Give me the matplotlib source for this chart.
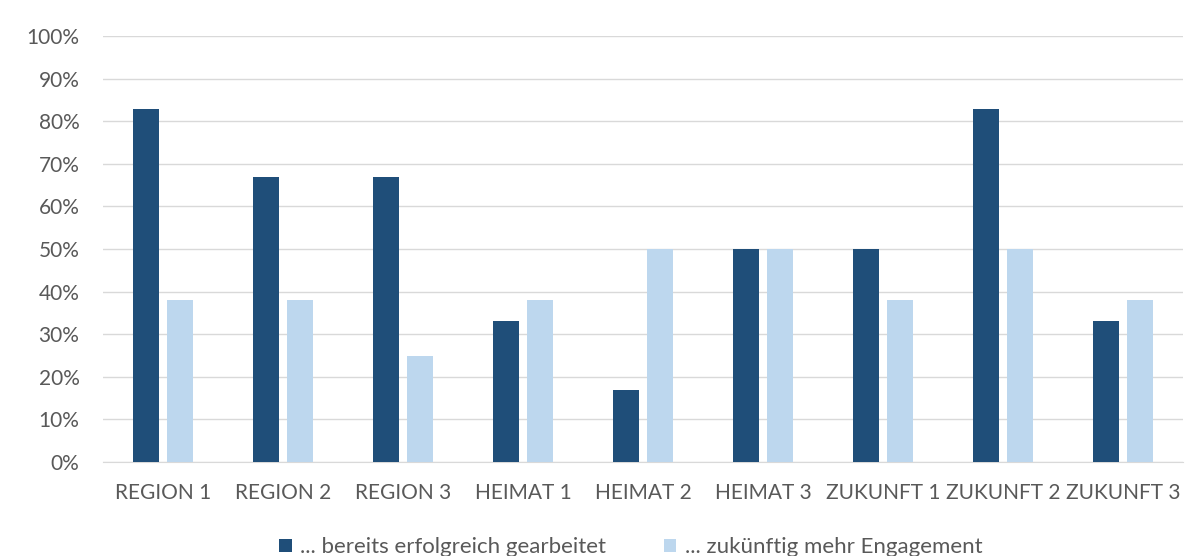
import numpy as np
import matplotlib.pyplot as plt
from matplotlib.ticker import PercentFormatter

categories = ['REGION 1', 'REGION 2', 'REGION 3', 'HEIMAT 1', 'HEIMAT 2',
              'HEIMAT 3', 'ZUKUNFT 1', 'ZUKUNFT 2', 'ZUKUNFT 3']
bereits = [83, 67, 67, 33, 17, 50, 50, 83, 33]
zukuenftig = [38, 38, 25, 38, 50, 50, 38, 50, 38]
series_names = ['... bereits erfolgreich gearbeitet', '... zukünftig mehr Engagement']

plt.rcParams['font.family'] = ['Lato', 'DejaVu Sans']
text_color = '#595959'

fig = plt.figure(figsize=(11.87, 5.56), dpi=100)
ax = fig.add_axes([0.0868, 0.169, 0.9098, 0.766])

x = np.arange(len(categories))
w = 0.217
ax.bar(x - 0.142, bereits, w, color='#1F4E79', label=series_names[0], zorder=3)
ax.bar(x + 0.142, zukuenftig, w, color='#BDD7EE', label=series_names[1], zorder=3)

ax.set_xlim(-0.5, len(categories) - 0.5)
ax.set_ylim(0, 100)
ax.set_yticks(np.arange(0, 101, 10))
ax.yaxis.set_major_formatter(PercentFormatter(decimals=0))
ax.set_xticks(x)
ax.set_xticklabels(categories)
ax.grid(axis='y', color='#D9D9D9', linewidth=1, zorder=0)
for s in ['top', 'right', 'left']:
    ax.spines[s].set_visible(False)
ax.spines['bottom'].set_color('#D9D9D9')
ax.tick_params(axis='both', length=0, labelsize=15, colors=text_color)
ax.tick_params(axis='x', pad=15)
ax.tick_params(axis='y', pad=17)

ax.legend(loc='center', bbox_to_anchor=(0.489, -0.2), ncol=2, frameon=False,
          fontsize=16, labelcolor=text_color, handlelength=0.55, handleheight=0.55,
          columnspacing=2.6, handletextpad=0.4)

fig.savefig('out.png', dpi=100)
